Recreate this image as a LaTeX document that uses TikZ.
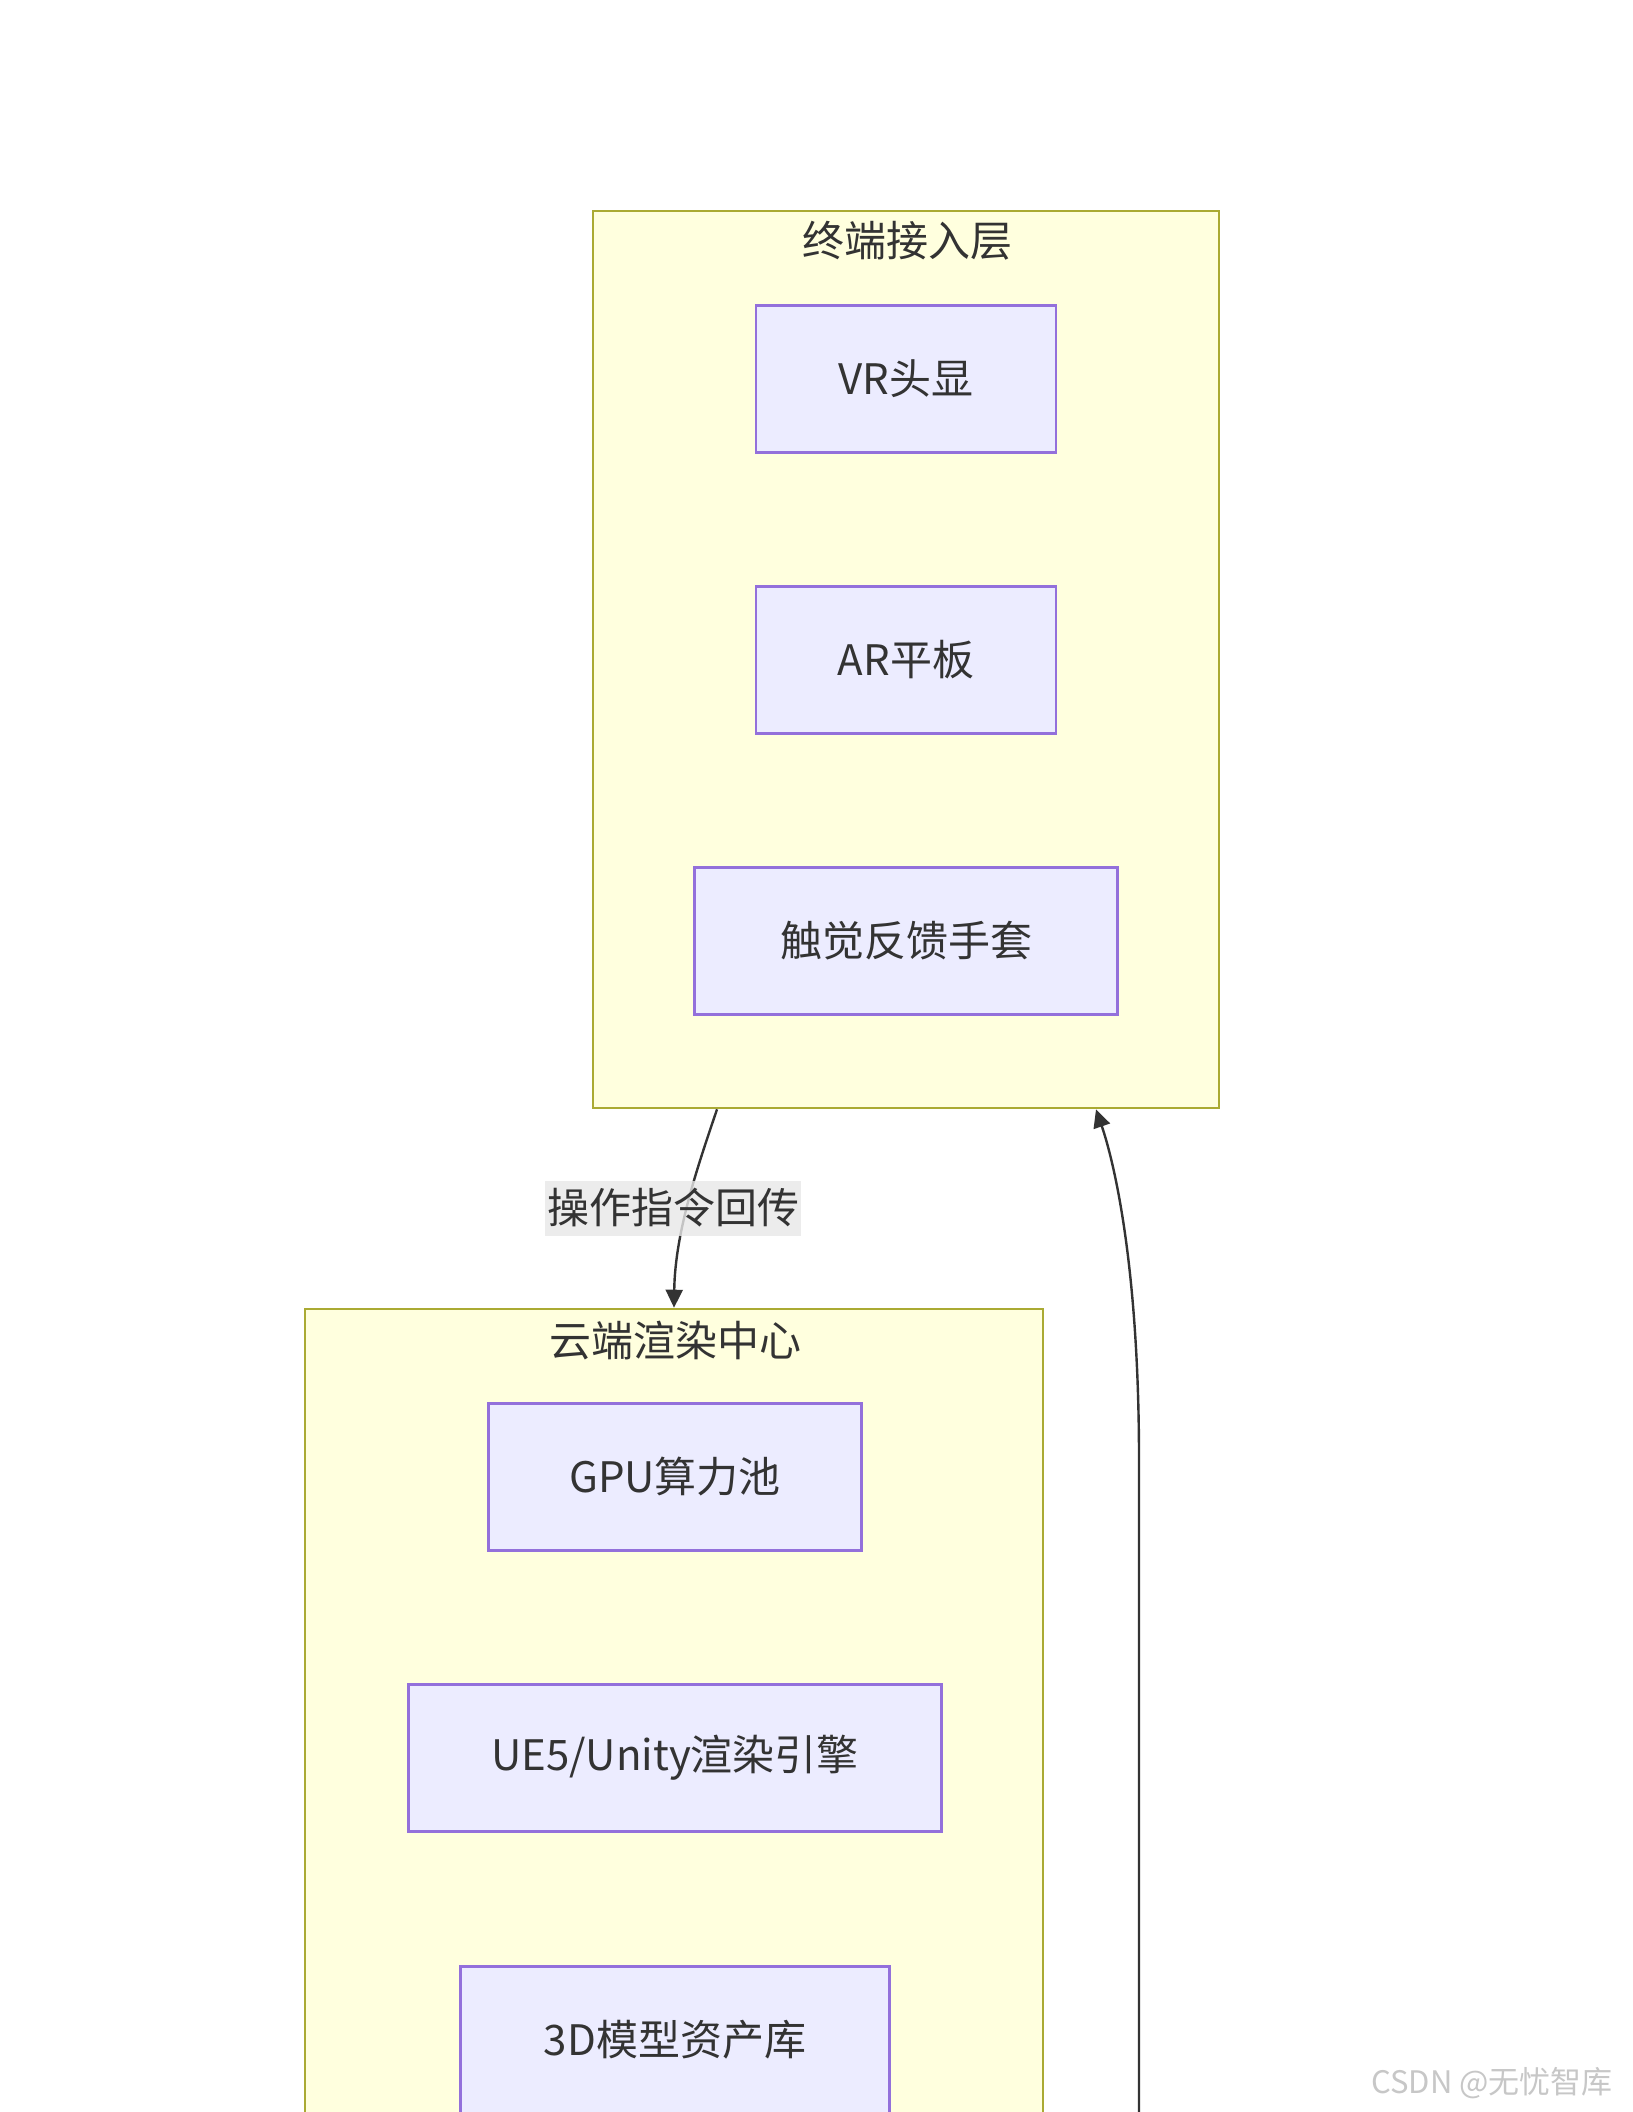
\documentclass[tikz,border=0pt]{standalone}
\usepackage{fontspec}
\setmainfont{Noto Sans CJK SC}
\usetikzlibrary{arrows.meta}
\definecolor{clusterfill}{HTML}{FFFFDE}
\definecolor{clusterline}{HTML}{AAAA33}
\definecolor{boxfill}{HTML}{ECECFF}
\definecolor{boxline}{HTML}{9370DB}
\definecolor{inktext}{HTML}{333333}
\definecolor{labelbg}{HTML}{E8E8E8}
\begin{document}
\begin{tikzpicture}[x=0.5pt,y=-0.5pt]
    \clip (0,0) rectangle (1632,2112);
    \fill[white] (0,0) rectangle (1632,2112);
    \begin{scope}
        \tikzset{layer box/.style={draw=clusterline, fill=clusterfill, line width=1.3pt, inner sep=0pt},
                 layer title/.style={text=inktext, font=\fontsize{21pt}{25pt}\selectfont},
                 item box/.style={draw=boxline, fill=boxfill, line width=1.2pt, minimum height=73.5pt, inner sep=0pt, text=inktext, font=\fontsize{21pt}{25pt}\selectfont},
                 flow/.style={draw=inktext, line width=1.2pt, -{Triangle[length=9pt,width=8.5pt]}},
                 flow label/.style={fill=labelbg, fill opacity=0.8, text opacity=1, text=inktext, inner xsep=1pt, inner ysep=4pt, font=\fontsize{21pt}{25pt}\selectfont}}
        % Draw the two layers
        \node [layer box, minimum width=313pt, minimum height=448.5pt] (term) at (906,659.5) {};
        \node [layer box, minimum width=369pt, minimum height=430.5pt] (cloud) at (674,1739.5) {};

        % Label the layers
        \node [layer title] (termtitle) at (907,241) {终端接入层};
        \node [layer title] (cloudtitle) at (675,1341) {云端渲染中心};

        % Devices in the access layer
        \node [item box, minimum width=150pt] (vr) at (906,379) {VR头显};
        \node [item box, minimum width=150pt] (ar) at (906,660) {AR平板};
        \node [item box, minimum width=211.5pt] (glove) at (906,941) {触觉反馈手套};

        % Services in the render center
        \node [item box, minimum width=186.5pt] (gpu) at (675,1477) {GPU算力池};
        \node [item box, minimum width=266.5pt] (engine) at (675,1758) {UE5/Unity渲染引擎};
        \node [item box, minimum width=214.5pt] (assets) at (675,2040) {3D模型资产库};

        % Links between the layers
        \draw [flow] ([xshift=-94.5pt]term.south) .. controls (700,1160) and (675,1230) .. (cloud.north);
        \node [flow label] (cmd) at (673,1208) {操作指令回传};
        \coordinate (back) at (1139,2160);
        \draw [flow] (back) -- (1139,1460) .. controls (1139,1250) and (1110,1150) .. ([xshift=95pt]term.south);

        % Watermark
        \node [anchor=east, text=black!22, font=\fontsize{15.5pt}{18pt}\selectfont] (mark) at (1620,2083) {CSDN @无忧智库};
    \end{scope}
\end{tikzpicture}
\end{document}
